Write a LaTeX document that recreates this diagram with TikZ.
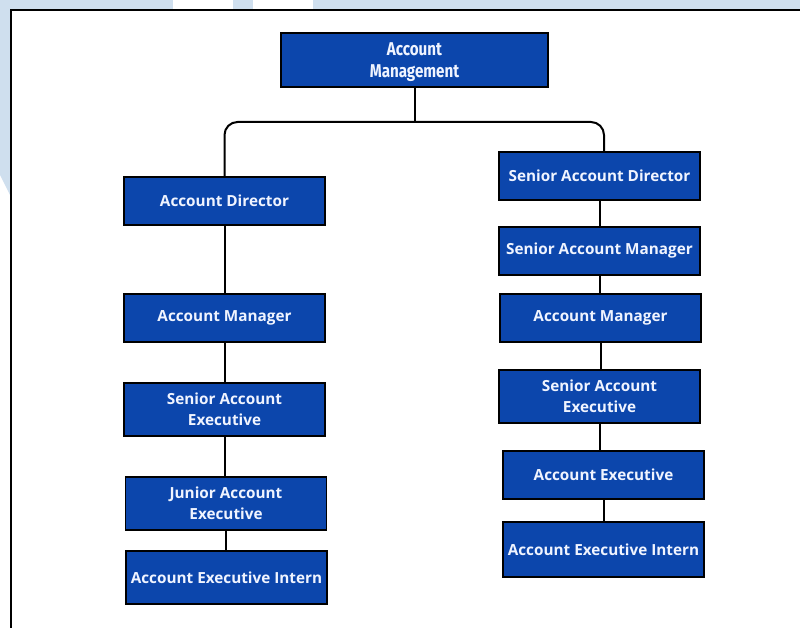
\documentclass[tikz,border=0pt]{standalone}
\usepackage{fontspec}
\setmainfont{Open Sans}
\newfontfamily\condfont[FakeStretch=0.82]{Fira Sans}
\definecolor{boxblue}{RGB}{12,70,172}
\definecolor{bgblue}{RGB}{207,223,238}
\definecolor{txtwhite}{RGB}{240,244,255}
\begin{document}
\begin{tikzpicture}[x=1pt,y=-1pt,
  box/.style={draw=black, line width=1.6pt, fill=boxblue, text=txtwhite,
    font=\bfseries\fontsize{15.3}{21}\selectfont, minimum width=201pt,
    minimum height=48pt, align=center, inner sep=0pt},
  tallbox/.style={box, minimum height=53pt},
  link/.style={line width=2pt, draw=black}]
\useasboundingbox (0,0) rectangle (800,628);
\fill[white] (0,0) rectangle (800,628);
% background strips
\fill[bgblue] (0,0) rectangle (173,10);
\fill[bgblue] (233,0) rectangle (253,10);
\fill[bgblue] (313,0) rectangle (800,10);
\fill[bgblue] (0,0) -- (10,0) -- (10,195) -- (0,175) -- cycle;
% frame
\draw[line width=1.8pt] (11,628) -- (11,10) -- (800,10);
% top
\node[box, minimum width=267pt, minimum height=54pt] (top) at (414.5,60) {};
\node[text=txtwhite, align=center, inner sep=0pt,
  font=\condfont\bfseries\fontsize{18.5}{22}\selectfont] (toptext)
  at ([yshift=-2.5pt]top.center) {Account\\Management};
% left column
\node[box] (ad) at (224.5,201) {Account Director};
\node[box] (am) at (224.5,318) {Account Manager};
\node[tallbox] (sae) at (224.5,409.5) {Senior Account\\Executive};
\node[tallbox] (jae) at (226,503.5) {Junior Account\\Executive};
\node[tallbox] (aei) at (226.5,577.5) {Account Executive Intern};
% right column
\node[box] (sad) at (599.5,176) {Senior Account Director};
\node[box] (sam) at (599.5,251) {Senior Account Manager};
\node[box] (ram) at (600.5,318) {Account Manager};
\node[tallbox] (rsae) at (599.5,396.5) {Senior Account\\Executive};
\node[box] (rae) at (603.5,475) {Account Executive};
\node[tallbox, minimum height=55pt] (raei) at (603.5,549.5) {Account Executive Intern};
% connectors
\coordinate (j) at (top.south |- 0,122);
\draw[link] (top.south) -- (j);
\draw[link, rounded corners=13pt] (ad.north) -- (ad.north |- j) -- (604,122) -- (604,152);
\draw[link] (ad.south) -- (ad.south |- am.north);
\draw[link] (am.south) -- (am.south |- sae.north);
\draw[link] (sae.south) -- (sae.south |- jae.north);
\draw[link] (jae.south) -- (jae.south |- aei.north);
\draw[link] (sad.south) -- (sad.south |- sam.north);
\draw[link] (sam.south) -- (sam.south |- ram.north);
\draw[link] (ram.south) -- (ram.south |- rsae.north);
\draw[link] (rsae.south) -- (rsae.south |- rae.north);
\draw[link] (rae.south) -- (rae.south |- raei.north);
\end{tikzpicture}
\end{document}
